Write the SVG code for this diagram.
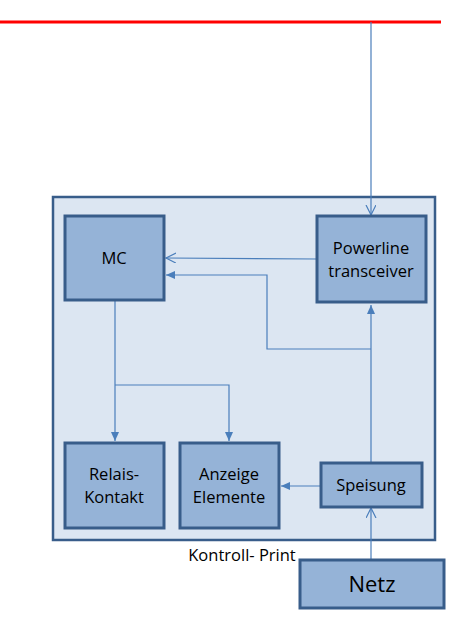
<svg xmlns="http://www.w3.org/2000/svg" width="464" height="627" viewBox="0 0 464 627">
<style>
.box{fill:#95B3D7;stroke:#385D8A;stroke-width:3}
.lbl{font-family:"Open Sans","Liberation Sans",sans-serif;font-size:16.5px;fill:#000;text-anchor:middle}
.big{font-size:22px}
.c{fill:none;stroke:#4A7EBB;stroke-width:1.2}
</style>
<defs>
<marker id="open" markerWidth="12" markerHeight="12" refX="10" refY="5" orient="auto" markerUnits="userSpaceOnUse">
<path d="M0,0 L10,5 L0,10" fill="none" stroke="#4A7EBB" stroke-width="1.2"/>
</marker>
<marker id="fill" markerWidth="12" markerHeight="12" refX="9" refY="4" orient="auto" markerUnits="userSpaceOnUse">
<path d="M0,0 L9,4 L0,8 Z" fill="#4A7EBB"/>
</marker>
</defs>
<rect width="464" height="627" fill="#fff"/>
<line x1="0" y1="22" x2="441" y2="22" stroke="#FF0000" stroke-width="3"/>
<g id="kontroll-print">
<rect x="53" y="197" width="382" height="343" fill="#DCE6F2" stroke="#385D8A" stroke-width="2.5"/>
<text class="lbl" x="242" y="561">Kontroll- Print</text>
</g>
<g id="connectors">
<path class="c" d="M371,22 V215" marker-end="url(#open)"/>
<path class="c" d="M317,259 L166,258" marker-end="url(#open)"/>
<path class="c" d="M371,349 H267 V275 H166" marker-end="url(#fill)"/>
<path class="c" d="M371,462 V305" marker-end="url(#fill)"/>
<path class="c" d="M115,300 V441" marker-end="url(#fill)"/>
<path class="c" d="M115,385 H229 V441" marker-end="url(#fill)"/>
<path class="c" d="M320,486 H281" marker-end="url(#fill)"/>
<path class="c" d="M371,560 V508" marker-end="url(#open)"/>
</g>
<g id="mc">
<rect class="box" x="65" y="216" width="99" height="84"/>
<text class="lbl" x="114" y="264">MC</text>
</g>
<g id="powerline">
<rect class="box" x="317" y="216" width="109" height="86"/>
<text class="lbl" x="371" y="254">Powerline</text>
<text class="lbl" x="371" y="277">transceiver</text>
</g>
<g id="relais">
<rect class="box" x="65" y="443" width="99" height="85"/>
<text class="lbl" x="114" y="480">Relais-</text>
<text class="lbl" x="114" y="503">Kontakt</text>
</g>
<g id="anzeige">
<rect class="box" x="180" y="443" width="99" height="85"/>
<text class="lbl" x="229" y="480">Anzeige</text>
<text class="lbl" x="229" y="503">Elemente</text>
</g>
<g id="speisung">
<rect class="box" x="321" y="463" width="101" height="44"/>
<text class="lbl" x="371" y="491">Speisung</text>
</g>
<g id="netz">
<rect class="box" x="300" y="560" width="144" height="48"/>
<text class="lbl big" x="372" y="592">Netz</text>
</g>
</svg>
